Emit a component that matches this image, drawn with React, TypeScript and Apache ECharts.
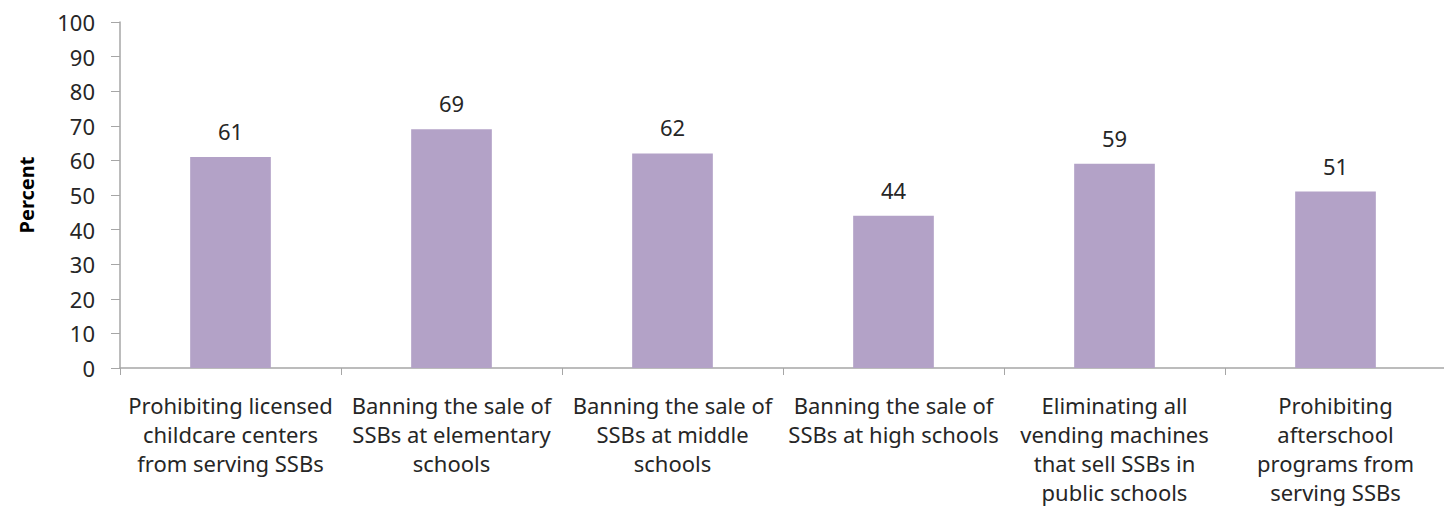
import React, { useEffect, useRef } from "react";
import * as echarts from "echarts";

const categories = [
  "Prohibiting licensed\nchildcare centers\nfrom serving SSBs",
  "Banning the sale of\nSSBs at elementary\nschools",
  "Banning the sale of\nSSBs at middle\nschools",
  "Banning the sale of\nSSBs at high schools",
  "Eliminating all\nvending machines\nthat sell SSBs in\npublic schools",
  "Prohibiting\nafterschool\nprograms from\nserving SSBs",
];
const values = [61, 69, 62, 44, 59, 51];
const yTicks = { min: 0, max: 100, interval: 10 };
const yAxisName = "Percent";

const FONT = "Noto Sans";

export default function App() {
  const ref = useRef<HTMLDivElement>(null);
  useEffect(() => {
    if (!ref.current) return;
    const chart = echarts.init(ref.current, null, { renderer: "svg" });
    chart.setOption({
      animation: false,
      textStyle: { fontFamily: FONT },
      grid: { left: 105, top: 14, right: 6, bottom: 144, containLabel: false },
      xAxis: {
        type: "category",
        data: categories,
        axisLine: { lineStyle: { color: "#A6A6A6", width: 1.5 } },
        axisTick: { show: true, length: 7, alignWithLabel: false, lineStyle: { color: "#A6A6A6" } },
        axisLabel: {
          interval: 0,
          color: "#262626",
          fontSize: 22,
          lineHeight: 29,
          margin: 22,
          fontFamily: FONT,
        },
      },
      yAxis: {
        type: "value",
        min: yTicks.min,
        max: yTicks.max,
        interval: yTicks.interval,
        name: yAxisName,
        nameLocation: "middle",
        nameGap: 84,
        nameTextStyle: { fontSize: 20, fontWeight: "bold", color: "#000", fontFamily: FONT },
        splitLine: { show: false },
        axisLine: { show: true, lineStyle: { color: "#A6A6A6", width: 1.5 } },
        axisTick: { show: true, length: 9, lineStyle: { color: "#A6A6A6" } },
        axisLabel: { color: "#262626", fontSize: 22, margin: 25, fontFamily: FONT },
      },
      series: [
        {
          type: "bar",
          data: values,
          barWidth: "36.5%",
          itemStyle: { color: "#B3A2C7" },
          label: {
            show: true,
            position: "top",
            distance: 15,
            color: "#262626",
            fontSize: 22,
            fontFamily: FONT,
          },
        },
      ],
    });
    return () => chart.dispose();
  }, []);
  return <div ref={ref} style={{ width: 1444, height: 504 }} />;
}
